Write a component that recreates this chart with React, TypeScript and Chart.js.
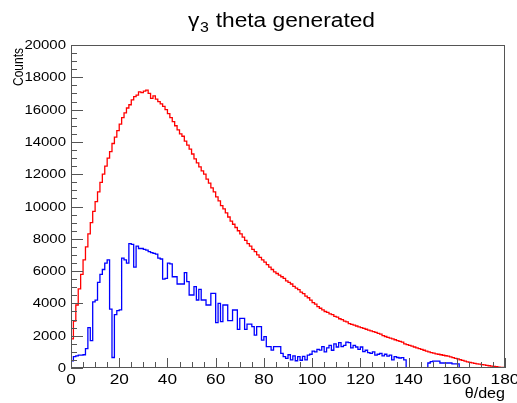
import React, { useEffect, useRef } from "react";
import { Chart, registerables } from "chart.js";

Chart.register(...registerables);

// bin lower edges: 0..179 deg, 1 deg per bin
const binEdgesStart = 0;
const binWidth = 1;

const redCounts = [
  600, 1800, 2900, 3900, 4900, 5800, 6700, 7500, 8300, 9000,
  9700, 10300, 10900, 11500, 12000, 12500, 13000, 13400, 13900, 14300,
  14700, 15100, 15500, 15800, 16100, 16300, 16600, 16800, 16900, 17100,
  17050, 17150, 17200, 17000, 16700, 16850, 16650, 16500, 16350, 16200,
  16000, 15750, 15500, 15250, 15000, 14750, 14500, 14350, 14050, 13800,
  13550, 13250, 12950, 12700, 12450, 12200, 12000, 11700, 11450, 11150,
  10900, 10600, 10350, 10050, 9850, 9600, 9350, 9100, 8900, 8700,
  8500, 8300, 8100, 7900, 7700, 7550, 7350, 7200, 7000, 6850,
  6700, 6550, 6400, 6250, 6100, 5950, 5850, 5750, 5650, 5550,
  5400, 5300, 5200, 5050, 4950, 4850, 4700, 4600, 4450, 4350,
  4200, 4050, 3950, 3800, 3700, 3600, 3500, 3450, 3350, 3300,
  3200, 3150, 3050, 3000, 2900, 2850, 2750, 2700, 2650, 2600,
  2550, 2500, 2450, 2400, 2350, 2300, 2250, 2200, 2150, 2100,
  2000, 1950, 1900, 1850, 1800, 1750, 1700, 1650, 1600, 1500,
  1450, 1400, 1350, 1300, 1250, 1200, 1150, 1100, 1050, 1000,
  950, 920, 880, 850, 820, 790, 760, 730, 690, 640,
  600, 560, 510, 470, 420, 380, 350, 320, 290, 260,
  240, 210, 190, 160, 140, 120, 100, 80, 60, 40,
];

const blueCounts = [
  60, 450, 700, 750, 800, 800, 820, 1200, 2500, 1700,
  4100, 4200, 5300, 5800, 6100, 6500, 6700, 3650, 650, 3300,
  3550, 3600, 6800, 6700, 6500, 7700, 7650, 6250, 7550, 7400,
  7400, 7350, 7300, 7200, 7150, 7100, 7050, 6800, 6750, 5500,
  5550, 6500, 6450, 5650, 5650, 5200, 5200, 5200, 5900, 5350,
  4520, 4520, 5040, 4210, 4870, 4210, 4210, 3900, 3900, 4620,
  4620, 2810, 4000, 2870, 3900, 3900, 2930, 2930, 3590, 3590,
  2390, 3070, 3070, 2390, 2720, 2720, 2560, 2040, 2560, 2560,
  1730, 1940, 1320, 1320, 1110, 1320, 1320, 1320, 910, 700,
  600, 820, 500, 750, 450, 700, 480, 720, 500, 800,
  850, 1050, 1000, 1150, 1110, 1320, 1000, 1250, 1400, 1100,
  1500, 1300, 1570, 1320, 1400, 1600, 1570, 1250, 1400, 1300,
  1150, 1300, 1010, 1100, 950, 900, 1000, 800, 850, 900,
  750, 850, 740, 800, 500, 700, 650, 620, 640, 500,
  0, 0, 0, 0, 0, 0, 0, 0, 0, 310,
  400, 430, 430, 430, 310, 310, 310, 310, 310, 250,
  250, 250, 0, 0, 0, 0, 0, 0, 0, 0,
  0, 0, 0, 0, 0, 0, 0, 0, 0, 0,
];

const xTicks = [0, 20, 40, 60, 80, 100, 120, 140, 160, 180];
const yTicks = [0, 2000, 4000, 6000, 8000, 10000, 12000, 14000, 16000, 18000, 20000];

const titleMain = "γ";
const titleSub = "3";
const titleRest = " theta generated";
const xTitle = "θ/deg";
const yTitle = "Counts";

const FONT = '"Liberation Sans", Arial, Helvetica, sans-serif';

function histPoints(counts: number[]) {
  const pts: { x: number; y: number }[] = [{ x: binEdgesStart, y: 0 }];
  counts.forEach((c, i) => pts.push({ x: binEdgesStart + i * binWidth, y: c }));
  const end = binEdgesStart + counts.length * binWidth;
  pts.push({ x: end, y: counts[counts.length - 1] });
  pts.push({ x: end, y: 0 });
  return pts;
}

function drawStretched(
  ctx: CanvasRenderingContext2D,
  text: string,
  x: number,
  y: number,
  sx: number,
  align: "left" | "right" | "center"
) {
  const w = ctx.measureText(text).width * sx;
  const left = align === "right" ? x - w : align === "center" ? x - w / 2 : x;
  ctx.save();
  ctx.translate(left, y);
  ctx.scale(sx, 1);
  ctx.textAlign = "left";
  ctx.fillText(text, 0, 0);
  ctx.restore();
  return w;
}

const rootStyle = {
  id: "rootStyle",
  afterDraw(chart: any) {
    const ctx: CanvasRenderingContext2D = chart.ctx;
    const xs = chart.scales.x;
    const ys = chart.scales.y;
    const a = chart.chartArea;
    ctx.save();
    // frame
    ctx.strokeStyle = "#555";
    ctx.lineWidth = 1;
    ctx.strokeRect(Math.round(a.left) + 0.5, Math.round(a.top) + 0.5, Math.round(a.right - a.left) - 1, Math.round(a.bottom - a.top) - 1);
    // y ticks
    ctx.beginPath();
    for (let i = 0; i < yTicks.length; i++) {
      const p = Math.round(ys.getPixelForValue(yTicks[i])) + 0.5;
      ctx.moveTo(a.left, p);
      ctx.lineTo(a.left + 12, p);
      if (i < yTicks.length - 1) {
        const step = (yTicks[i + 1] - yTicks[i]) / 4;
        for (let k = 1; k < 4; k++) {
          const q = Math.round(ys.getPixelForValue(yTicks[i] + k * step)) + 0.5;
          ctx.moveTo(a.left, q);
          ctx.lineTo(a.left + 6, q);
        }
      }
    }
    // x ticks
    for (let i = 0; i < xTicks.length; i++) {
      const p = Math.round(xs.getPixelForValue(xTicks[i])) + 0.5;
      ctx.moveTo(p, a.bottom);
      ctx.lineTo(p, a.bottom - 10);
      if (i < xTicks.length - 1) {
        const step = (xTicks[i + 1] - xTicks[i]) / 4;
        for (let k = 1; k < 4; k++) {
          const q = Math.round(xs.getPixelForValue(xTicks[i] + k * step)) + 0.5;
          ctx.moveTo(q, a.bottom);
          ctx.lineTo(q, a.bottom - 6);
        }
      }
    }
    ctx.stroke();

    ctx.fillStyle = "#000";
    // y labels
    ctx.font = `13px ${FONT}`;
    ctx.textBaseline = "middle";
    yTicks.forEach((v) => {
      drawStretched(ctx, String(v), a.left - 5, ys.getPixelForValue(v) + 0.5, 1.15, "right");
    });
    // x labels
    ctx.font = `15px ${FONT}`;
    ctx.textBaseline = "alphabetic";
    xTicks.forEach((v) => {
      drawStretched(ctx, String(v), xs.getPixelForValue(v), a.bottom + 16, 1.15, "center");
    });
    // x title
    ctx.font = `14px ${FONT}`;
    drawStretched(ctx, xTitle, a.right, 398, 1.15, "right");
    // y title (rotated)
    ctx.save();
    ctx.translate(23, a.top + 3);
    ctx.rotate(-Math.PI / 2);
    ctx.scale(1, 1.15);
    ctx.font = `12px ${FONT}`;
    ctx.textAlign = "right";
    ctx.fillText(yTitle, 0, 0);
    ctx.restore();

    // title
    const left = 188;
    const right = 375;
    const base = 27;
    ctx.font = `20px ${FONT}`;
    const w1 = ctx.measureText(titleMain).width;
    const w3 = ctx.measureText(titleRest).width;
    ctx.font = `14px ${FONT}`;
    const w2 = ctx.measureText(titleSub).width;
    const natural = w1 + w2 + w3 + 1;
    const sx = (right - left) / natural;
    ctx.save();
    ctx.translate(left, base);
    ctx.scale(sx, 1);
    ctx.textAlign = "left";
    ctx.font = `20px ${FONT}`;
    ctx.fillText(titleMain, 0, 0);
    ctx.font = `14px ${FONT}`;
    ctx.fillText(titleSub, w1 + 0.5, 5);
    ctx.font = `20px ${FONT}`;
    ctx.fillText(titleRest, w1 + w2 + 1, 0);
    ctx.restore();

    ctx.restore();
  },
};

export default function App() {
  const ref = useRef<HTMLCanvasElement | null>(null);
  useEffect(() => {
    if (!ref.current) return;
    const chart = new Chart(ref.current, {
      type: "line",
      data: {
        datasets: [
          {
            label: "blue",
            data: histPoints(blueCounts),
            borderColor: "#0000ff",
            borderWidth: 1.3,
            stepped: "after",
            pointRadius: 0,
            fill: false,
          },
          {
            label: "red",
            data: histPoints(redCounts),
            borderColor: "#ff0000",
            borderWidth: 1.3,
            stepped: "after",
            pointRadius: 0,
            fill: false,
          },
        ],
      },
      options: {
        responsive: false,
        animation: false,
        layout: { padding: { top: 45, right: 12, left: 0, bottom: 0 } },
        plugins: {
          legend: { display: false },
          title: { display: false },
          tooltip: { enabled: false },
        },
        scales: {
          x: {
            type: "linear",
            min: 0,
            max: 180,
            ticks: { display: false, stepSize: 20 },
            grid: { display: false },
            border: { display: false },
            afterFit: (s: any) => {
              s.height = 35;
            },
          },
          y: {
            type: "linear",
            min: 0,
            max: 20000,
            ticks: { display: false, stepSize: 2000 },
            grid: { display: false },
            border: { display: false },
            afterFit: (s: any) => {
              s.width = 71;
            },
          },
        },
      },
      plugins: [rootStyle],
    });
    return () => chart.destroy();
  }, []);
  return (
    <div style={{ position: "fixed", left: 0, top: 0, width: 517, height: 403, background: "#fff" }}>
      <canvas ref={ref} width={517} height={403} style={{ width: 517, height: 403 }} />
    </div>
  );
}
